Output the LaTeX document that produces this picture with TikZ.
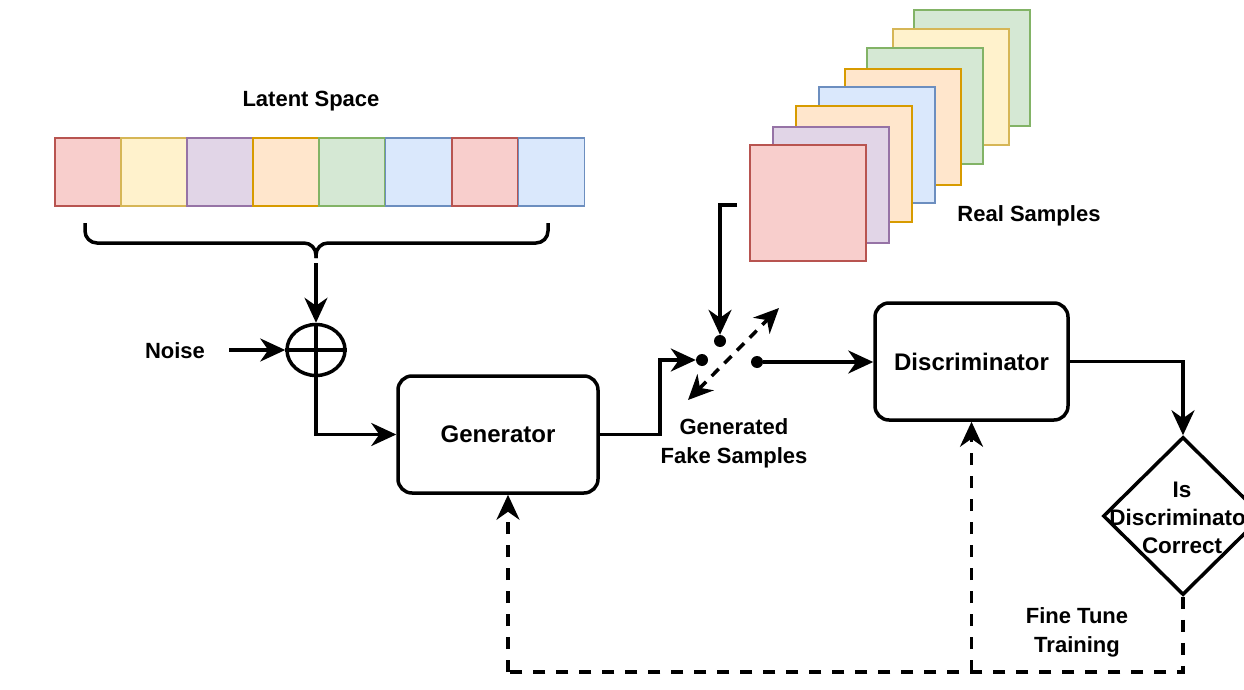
\documentclass[tikz,border=0pt]{standalone}
\usepackage{fontspec}
\setmainfont{Liberation Sans}
\usetikzlibrary{arrows.meta,shapes.geometric}
\definecolor{redF}{HTML}{F8CECC}\definecolor{redD}{HTML}{B85450}
\definecolor{yelF}{HTML}{FFF2CC}\definecolor{yelD}{HTML}{D6B656}
\definecolor{purF}{HTML}{E1D5E7}\definecolor{purD}{HTML}{9673A6}
\definecolor{oraF}{HTML}{FFE6CC}\definecolor{oraD}{HTML}{D79B00}
\definecolor{greF}{HTML}{D5E8D4}\definecolor{greD}{HTML}{82B366}
\definecolor{bluF}{HTML}{DAE8FC}\definecolor{bluD}{HTML}{6C8EBF}
\tikzset{
  lbl/.style={font=\fontsize{22}{29}\selectfont\bfseries, align=center, inner sep=2pt},
  box/.style={draw, line width=3.5pt, rounded corners=14pt, font=\fontsize{24}{28}\selectfont\bfseries},
  cell/.style={draw=#1D, fill=#1F, line width=1.5pt, minimum width=66pt, minimum height=68pt, inner sep=0pt},
  sq/.style={draw=#1D, fill=#1F, line width=1.5pt, minimum width=116pt, minimum height=116pt, inner sep=0pt},
  tip/.tip={Stealth[length=25pt,width=23pt,inset=8pt]},
  arr/.style={line width=3.5pt, -tip},
  darr/.style={line width=3.5pt, dash pattern=on 12pt off 11pt},
  dot/.style={circle, fill=black, minimum size=12pt, inner sep=0pt},
}
\begin{document}
\begin{tikzpicture}[x=1pt,y=-1pt]
\useasboundingbox (0,0) rectangle (1244,690);
\fill[white] (0,0) rectangle (1244,690);
% latent space
\node[lbl] (ls) at (311,101) {Latent Space};
\node[cell=red] (c1) at (88,172) {};
\node[cell=yel] (c2) at (154,172) {};
\node[cell=pur] (c3) at (220,172) {};
\node[cell=ora] (c4) at (286,172) {};
\node[cell=gre] (c5) at (352,172) {};
\node[cell=blu] (c6) at (418.5,172) {};
\node[cell=red] (c7) at (485,172) {};
\node[cell=blu] (c8) at (551.5,172) {};
% brace
\draw[line width=3.5pt, rounded corners=12pt] (85,223) -- (85,243) -- (316,243) -- (316,258);
\draw[line width=3.5pt, rounded corners=12pt] (548,223) -- (548,243) -- (316,243) -- (316,258);
\coordinate (btip) at (316,263);
% xor
\node[draw, ellipse, line width=3.5pt, minimum width=58pt, minimum height=51pt, inner sep=0pt] (xor) at (316,350) {};
\draw[line width=3.5pt] (xor.north) -- (xor.south) (xor.west) -- (xor.east);
\draw[arr] (btip) -- (xor.north);
\node[lbl] (noise) at (175,351) {Noise};
\draw[arr] ([xshift=22pt]noise.east |- xor.west) -- (xor.west);
% generator
\node[box, minimum width=200pt, minimum height=117pt] (gen) at (498,434.5) {Generator};
\draw[arr] (xor.south) |- (gen.west);
% real samples
\node[sq=gre] (r8) at (972,68) {};
\node[sq=yel] (r7) at (951,87) {};
\node[sq=gre] (r6) at (925,106) {};
\node[sq=ora] (r5) at (903,127) {};
\node[sq=blu] (r4) at (877,145) {};
\node[sq=ora] (r3) at (854,164) {};
\node[sq=pur] (r2) at (831,185) {};
\node[sq=red] (r1) at (808,203) {};
\node[lbl] (rl) at (1029,216) {Real Samples};
% switch
\node[dot] (d1) at (702,360) {};
\node[dot] (d2) at (720,341) {};
\node[dot] (d3) at (757,362) {};
\coordinate (rsin) at (737,205);
\draw[arr] (rsin) -| (d2.north);
\draw[arr] (gen.east) -- ++(60,0) |- (d1.west);
\coordinate (sa) at (688,400);
\coordinate (sb) at (779,308);
\draw[darr, dash pattern=on 10pt off 8pt, tip-tip] (sa) -- (sb);
\node[lbl] (gfs) at (734,443) {Generated\\Fake Samples};
% discriminator
\node[box, minimum width=193pt, minimum height=117pt] (disc) at (971.5,361.5) {Discriminator};
\draw[arr] (d3.east) -- (d3 -| disc.west);
% decision
\node[draw, diamond, line width=3.5pt, minimum width=160pt, minimum height=158pt, inner sep=0pt] (dia) at (1183,516) {};
\node[lbl, font=\fontsize{22.5}{28}\selectfont\bfseries] (diat) at (1182,518) {Is\\Discriminator\\Correct};
\draw[arr] (disc.east) -| (dia.north);
% feedback
\node[lbl] (ft) at (1077,632) {Fine Tune\\Training};
\coordinate (fb) at (508,672);
\draw[darr] (dia.south) |- (fb);
\draw[arr, dash pattern=on 12pt off 11pt] (fb) -- ([xshift=10pt]gen.south);
\draw[arr, dash pattern=on 12pt off 11pt] (disc.south |- fb) -- (disc.south);
\end{tikzpicture}
\end{document}
